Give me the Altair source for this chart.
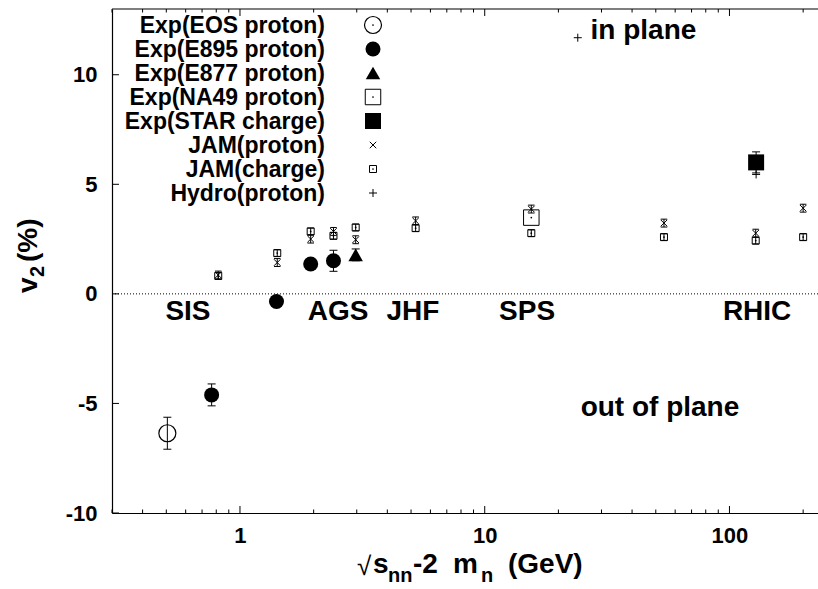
import altair as alt
import pandas as pd

# ---------------- data: elliptic flow v2 (%) vs sqrt(s_nn) - 2 m_n (GeV) ----------------
eos_e = [0.505]
eos_v2 = [-6.36]
eos_err = [0.73]

e895_e = [0.766, 1.41, 1.945, 2.41]
e895_v2 = [-4.61, -0.35, 1.36, 1.51]
e895_err = [0.50, 0.0, 0.0, 0.48]

e877_e = [2.97]
e877_v2 = [1.78]
e877_err = [0.27]

na49_e = [15.5]
na49_v2 = [3.48]

star_e = [128.5]
star_v2 = [6.0]
star_err = [0.48]

jam_e = [0.815, 1.42, 1.945, 2.41, 2.97, 5.22, 15.5, 54.0, 128.0, 200.0]
jam_proton = [0.86, 1.43, 2.50, 2.85, 2.47, 3.33, 3.87, 3.23, 2.77, 3.91]
jam_charge = [0.82, 1.86, 2.85, 2.65, 3.03, 3.00, 2.77, 2.59, 2.43, 2.59]
jam_proton_err = 0.18
jam_charge_err = 0.15

hydro_e = [24.0, 128.5]
hydro_v2 = [11.69, 5.45]

# accelerator labels
facilities = ["SIS", "AGS", "JHF", "SPS", "RHIC"]
facility_e = [0.613, 2.52, 5.09, 14.9, 129.7]

legend_labels = ["Exp(EOS proton)", "Exp(E895 proton)", "Exp(E877 proton)",
                 "Exp(NA49 proton)", "Exp(STAR charge)", "JAM(proton)",
                 "JAM(charge)", "Hydro(proton)"]

x_major = [1, 10, 100]
y_major = [-10, -5, 0, 5, 10]

# ---------------- layout ----------------
W, H = 706, 504
FONT = "Liberation Sans"
X_DOMAIN = [0.3, 230]
Y_DOMAIN = [-10, 13]

xscale = alt.Scale(type="log", domain=X_DOMAIN, nice=False)
yscale = alt.Scale(domain=Y_DOMAIN, nice=False, zero=False)

# plain-hyphen labels (d3 format would use a typographic minus)
xaxis = alt.Axis(values=x_major, labelPadding=12, title=None, grid=False,
                 labelExpr="'' + datum.value")
yaxis = alt.Axis(values=y_major, labelPadding=15, title=None, grid=False,
                 labelExpr="'' + datum.value")


def xq(field="e"):
    return alt.X(f"{field}:Q", scale=xscale, axis=xaxis)


def yq(field="v2"):
    return alt.Y(f"{field}:Q", scale=yscale, axis=yaxis)


X_CROSS = "M-1,-1L1,1M-1,1L1,-1"
PLUS = "M-1,0L1,0M0,-1L0,1"
CAP = "M-1,0L1,0"


def frame(e, v2, err=None):
    d = {"e": e, "v2": v2}
    if err is not None:
        d["err"] = err if isinstance(err, list) else [err] * len(e)
    return pd.DataFrame(d)


def symbols(df, shape, size, filled, sw=1.2):
    return alt.Chart(df).mark_point(
        shape=shape, size=size, filled=filled, color="black",
        strokeWidth=sw, opacity=1
    ).encode(x=xq(), y=yq())


def dots(df):
    return alt.Chart(df).mark_point(
        shape="circle", size=3, filled=True, color="black", opacity=1
    ).encode(x=xq(), y=yq())


def errorbars(df, cap_size):
    base = alt.Chart(df).transform_filter("datum.err > 0").transform_calculate(
        lo="datum.v2 - datum.err", hi="datum.v2 + datum.err"
    )
    bar = base.mark_rule(color="black", strokeWidth=1).encode(
        x=xq(), y=yq("lo"), y2="hi:Q"
    )
    caps = [
        base.mark_point(shape=CAP, size=cap_size, filled=False, color="black",
                        strokeWidth=1, opacity=1).encode(x=xq(), y=yq(k))
        for k in ("lo", "hi")
    ]
    return [bar] + caps


eos = frame(eos_e, eos_v2, eos_err)
e895 = frame(e895_e, e895_v2, e895_err)
e877 = frame(e877_e, e877_v2, e877_err)
na49 = frame(na49_e, na49_v2)
star = frame(star_e, star_v2, star_err)
jp = frame(jam_e, jam_proton, jam_proton_err)
jc = frame(jam_e, jam_charge, jam_charge_err)
hydro = frame(hydro_e, hydro_v2)

one = pd.DataFrame({"k": [0]})

layers = []

# top border
layers.append(alt.Chart(one).mark_rule(color="black", strokeWidth=1.2).encode(
    x=alt.value(0), x2=alt.value(W), y=alt.value(0)))

# inward ticks on bottom and top, and on the left
x_minor = [m * 10 ** p for p in (-1, 0, 1, 2) for m in range(2, 10)
           if X_DOMAIN[0] < m * 10 ** p < X_DOMAIN[1]]
for vals, length in ((x_major, 7), (x_minor, 3.5)):
    tdf = pd.DataFrame({"e": vals})
    layers.append(alt.Chart(tdf).mark_rule(color="black", strokeWidth=1).encode(
        x=xq(), y=alt.value(H), y2=alt.value(H - length)))
    layers.append(alt.Chart(tdf).mark_rule(color="black", strokeWidth=1).encode(
        x=xq(), y=alt.value(0), y2=alt.value(length)))
ytdf = pd.DataFrame({"v2": y_major})
layers.append(alt.Chart(ytdf).mark_rule(color="black", strokeWidth=1).encode(
    y=yq(), x=alt.value(0), x2=alt.value(7)))

# zero line
layers.append(alt.Chart(pd.DataFrame({"v2": [0]})).mark_rule(
    color="black", strokeWidth=1, strokeDash=[1, 2]).encode(y=yq()))

# error bars
layers += errorbars(eos, 64)
layers += errorbars(e895, 64)
layers += errorbars(e877, 64)
layers += errorbars(star, 64)
layers += errorbars(jp, 42)
layers += errorbars(jc, 42)

# markers
layers.append(symbols(eos, "circle", 289, False))
layers.append(symbols(e895, "circle", 225, True))
layers.append(symbols(e877, "triangle-up", 210, True))
layers.append(symbols(na49, "square", 240, False, 1.0))
layers.append(dots(na49))
layers.append(symbols(star, "square", 256, True))
layers.append(symbols(jp, X_CROSS, 42, False, 1.0))
layers.append(symbols(jc, "square", 49, False, 1.0))
layers.append(dots(jc))
layers.append(symbols(hydro, PLUS, 64, False, 1.0))

# facility labels and in/out of plane annotations
fac = pd.DataFrame({"e": facility_e, "v2": [-1.19] * len(facilities), "t": facilities})
layers.append(alt.Chart(fac).mark_text(
    font=FONT, fontSize=28, fontWeight="bold", color="black",
    align="center", baseline="alphabetic").encode(x=xq(), y=yq(), text="t:N"))
notes = pd.DataFrame({"e": [44.5, 52.0], "v2": [11.62, -5.57],
                      "t": ["in plane", "out of plane"]})
layers.append(alt.Chart(notes).mark_text(
    font=FONT, fontSize=28, fontWeight="bold", color="black",
    align="center", baseline="alphabetic").encode(x=xq(), y=yq(), text="t:N"))

# legend (labels right-aligned, symbols to the right)
LX_TEXT, LX_SYM, LY0, LDY = 213, 261, 16, 24
legend_marks = [
    dict(shape="circle", size=289, filled=False, dot=True),
    dict(shape="circle", size=225, filled=True),
    dict(shape="triangle-up", size=210, filled=True),
    dict(shape="square", size=240, filled=False, dot=True),
    dict(shape="square", size=256, filled=True),
    dict(shape=X_CROSS, size=42, filled=False),
    dict(shape="square", size=49, filled=False, dot=True),
    dict(shape=PLUS, size=64, filled=False),
]
for i, (lab, m) in enumerate(zip(legend_labels, legend_marks)):
    ly = LY0 + i * LDY
    layers.append(alt.Chart(pd.DataFrame({"t": [lab]})).mark_text(
        font=FONT, fontSize=23, fontWeight="bold", color="black",
        align="right", baseline="middle").encode(
        x=alt.value(LX_TEXT), y=alt.value(ly + 1), text="t:N"))
    layers.append(alt.Chart(one).mark_point(
        shape=m["shape"], size=m["size"], filled=m["filled"], color="black",
        strokeWidth=1.2 if m["shape"] == "circle" else 1.0, opacity=1).encode(
        x=alt.value(LX_SYM), y=alt.value(ly)))
    if m.get("dot"):
        layers.append(alt.Chart(one).mark_point(
            shape="circle", size=3, filled=True, color="black", opacity=1).encode(
            x=alt.value(LX_SYM), y=alt.value(ly)))


# axis titles built from pieces so the subscripts sit right
def label(text, x, y, size=28, weight="bold", angle=0):
    return alt.Chart(one).mark_text(
        text=text, font=FONT, fontSize=size, fontWeight=weight, color="black",
        align="left", baseline="alphabetic", angle=angle).encode(
        x=alt.value(x), y=alt.value(y))


layers += [
    label("√", 245, 566, size=26, weight="normal"),
    label("s", 261, 564),
    label("nn", 276, 573, size=20),
    label("-2", 301, 564),
    label("m", 341, 564),
    label("n", 369, 573, size=20),
    label("(GeV)", 396, 564),
]

layers += [
    label("v", -75, 284, angle=270),
    label("2", -68, 268, size=20, angle=270),
    label("(%)", -75, 253, angle=270),
]

chart = alt.layer(*layers).properties(
    width=W, height=H,
    padding={"left": 112, "top": 9, "right": 0, "bottom": 76},
    autosize=alt.AutoSizeParams(type="none"),
    background="white",
).configure_view(stroke=None).configure_axis(
    tickSize=0, labelFontSize=22, labelFont=FONT, labelFontWeight="bold",
    labelColor="black", domainColor="black", domainWidth=1.2,
)

chart.save("out.html", embed_options={"renderer": "svg", "actions": False})
